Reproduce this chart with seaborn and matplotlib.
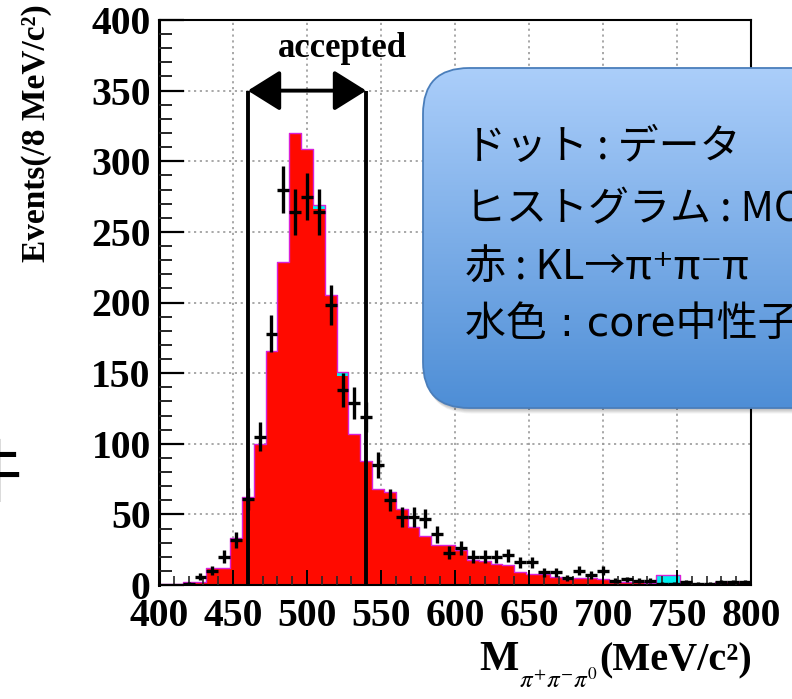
import numpy as np
import pandas as pd
import matplotlib
matplotlib.use("Agg")
import matplotlib.pyplot as plt
import seaborn as sns
from matplotlib.patches import FancyBboxPatch, ArrowStyle
from matplotlib.ticker import MultipleLocator

# ---- data: M(pi+ pi- pi0) spectrum, 8 MeV/c^2 bins from 400 to 800 ----
bin_lo, bin_hi, bin_w = 400, 800, 8

# MC: K_L -> pi+ pi- pi0 (red)
mc_kl3pi = [1, 1, 2, 2, 12, 12, 33, 62, 100, 166,
            229, 320, 309, 266, 205, 148, 107, 88, 67, 66,
            54, 41, 35, 28, 28, 25, 18, 17, 15, 14,
            9, 8, 8, 6, 4, 5, 5, 4, 2, 2,
            2, 1.5, 1, 1, 0.5, 0.5, 0.5, 2, 2, 2]
# MC: core neutron (cyan), stacked on top
mc_core = [0, 0, 0, 0, 0, 0, 0, 0, 0, 0,
           0, 0, 0, 3, 0, 3, 0, 0, 1, 0,
           0, 0, 0, 0, 0, 0, 0, 0, 0, 0,
           0, 0, 0, 0, 0, 0, 0, 0, 0, 0,
           0, 0, 6, 6, 1, 0, 0, 0, 0, 0]
# data points
data_counts = [0, 0, 1, 6, 10, 20, 32, 61, 105, 178,
               280, 264, 275, 264, 198, 138, 129, 119, 85, 60,
               48, 48, 47, 36, 23, 26, 20, 20, 20, 21,
               16, 16, 9, 9, 5, 10, 7, 10, 3, 4,
               3, 3, 1, 1, 2, 1, 1, 2, 2, 2]

accept_window = (460, 540)
accept_level = 350
x_ticks = [400, 450, 500, 550, 600, 650, 700, 750, 800]
y_ticks = [0, 50, 100, 150, 200, 250, 300, 350, 400]

legend_lines = ["ドット : データ",
                "ヒストグラム : MC",
                "赤 : KL→π⁺π⁻π",
                "水色 : core中性子"]

edges = np.arange(bin_lo, bin_hi + bin_w, bin_w)
bin_list = edges.tolist()
centers = edges[:-1] + bin_w / 2
df = pd.DataFrame({"mass": centers,
                   "kl3pi": mc_kl3pi,
                   "core": mc_core,
                   "data": data_counts})
df["total"] = df["kl3pi"] + df["core"]

# ---- figure ----
sns.set_theme(style="white")
plt.rcParams["font.family"] = ["Liberation Serif", "DejaVu Serif"]
plt.rcParams["mathtext.fontset"] = "stix"

W, H = 792, 699
fig = plt.figure(figsize=(W / 100, H / 100), dpi=100)
fig.patch.set_facecolor("white")
ax = fig.add_axes([159 / W, 1 - 585 / H, (751 - 159) / W, (585 - 20) / H])
ax.set_facecolor("white")

# dotted grid behind everything
for xv in x_ticks[1:-1]:
    ax.axvline(xv, color="#9a9a9a", ls=(0, (1.3, 2.2)), lw=1.2, zorder=0.3)
for yv in y_ticks[1:-1]:
    ax.axhline(yv, color="#9a9a9a", ls=(0, (1.3, 2.2)), lw=1.2, zorder=0.3)

# stacked MC: total (cyan) underneath, K_L -> 3pi (red) on top of it
sns.histplot(data=df, x="mass", weights="total", bins=bin_list, element="step",
             fill=True, color="#00F0F0", alpha=1, linewidth=0, ax=ax, zorder=1)
sns.histplot(data=df, x="mass", weights="kl3pi", bins=bin_list, element="step",
             fill=True, color="#FF0A00", alpha=1, linewidth=0, ax=ax, zorder=1.1)
sns.histplot(data=df, x="mass", weights="total", bins=bin_list, element="step",
             fill=False, color="#D820D8", linewidth=1.0, ax=ax, zorder=1.2)

# data with Poisson errors
pts = df[df["data"] > 0]
ax.errorbar(pts["mass"], pts["data"], yerr=np.sqrt(pts["data"]), xerr=bin_w / 2,
            fmt="none", ecolor="black", elinewidth=2.4, capsize=0, zorder=4)

# accepted window
lo, hi = accept_window
ax.vlines([lo, hi], 0, accept_level, color="black", lw=2.8, zorder=5)
ax.annotate("", xy=(lo, accept_level), xytext=(hi, accept_level),
            arrowprops=dict(arrowstyle=ArrowStyle("<|-|>", head_length=0.8, head_width=0.5),
                            mutation_scale=25, lw=2.8, color="black",
                            shrinkA=0, shrinkB=0), zorder=5)
ax.text(524, 374, "accepted", ha="center", va="baseline", fontsize=25,
        fontweight="bold", color="black", zorder=5)

# axes styling (ROOT-like)
ax.set_xlim(bin_lo, bin_hi)
ax.set_ylim(y_ticks[0], y_ticks[-1])
ax.set_xticks(x_ticks)
ax.set_yticks(y_ticks)
ax.set_xticklabels([str(v) for v in x_ticks])
ax.set_yticklabels([str(v) for v in y_ticks])
ax.xaxis.set_minor_locator(MultipleLocator(10))
ax.yaxis.set_minor_locator(MultipleLocator(10))
ax.tick_params(axis="y", which="major", direction="in", length=18, width=1.6,
               pad=6, labelsize=28.5, colors="black", left=True)
ax.tick_params(axis="y", which="minor", direction="in", length=9.5, width=1.4, left=True)
ax.tick_params(axis="x", which="major", direction="in", length=11, width=1.4,
               pad=9, labelsize=28.5, colors="black", bottom=True)
ax.tick_params(axis="x", which="minor", direction="in", length=6.5, width=1.2, bottom=True)
for lab in ax.get_xticklabels() + ax.get_yticklabels():
    lab.set_fontweight("bold")
ax.set_xlabel("")
ax.set_ylabel("")
for side, sp in ax.spines.items():
    sp.set_visible(True)
    sp.set_color("black")
    sp.set_linewidth(2.2 if side == "left" else 1.5)
ax.set_axisbelow(False)

fig.text(37 / W, 1 - 4 / H, "Events(/8 MeV/c²)", rotation=90, ha="center", va="top",
         fontsize=24, fontweight="bold", color="black")

# x-axis title built from pieces: M, small subscript, (MeV/c²)
base_y = 1 - 670 / H
unit = fig.text(752 / W, base_y, "(MeV/c²)", ha="right", va="baseline",
                fontsize=29, fontweight="bold", color="black")
fig.canvas.draw()
ux0 = unit.get_window_extent().x0
sub = fig.text((ux0 - 1) / W, 1 - 688 / H, r"$\pi^{+}\pi^{-}\pi^{0}$", ha="right",
               va="baseline", fontsize=18, color="black")
fig.canvas.draw()
sx0 = sub.get_window_extent().x0
fig.text((sx0 - 1) / W, base_y, "M", ha="right", va="baseline",
         fontsize=30, fontweight="bold", color="black")

# ---- callout box over the plot ----
ov = fig.add_axes([0, 0, 1, 1], zorder=10)
ov.set_xlim(0, W)
ov.set_ylim(H, 0)
ov.axis("off")
ov.patch.set_alpha(0)

bx0, by0, bx1, by1 = 423, 68, 880, 408
rad = 46
for k in range(1, 8):
    sh = FancyBboxPatch((bx0 + k * 0.4, by0 + k * 0.8), bx1 - bx0, by1 - by0,
                        boxstyle=f"round,pad=0,rounding_size={rad}",
                        facecolor="black", edgecolor="none", alpha=0.045)
    ov.add_patch(sh)

box = FancyBboxPatch((bx0, by0), bx1 - bx0, by1 - by0,
                     boxstyle=f"round,pad=0,rounding_size={rad}",
                     facecolor="none", edgecolor="none")
ov.add_patch(box)
top_c = np.array([171, 206, 250]) / 255
bot_c = np.array([78, 142, 214]) / 255
t = np.linspace(0, 1, 256)[:, None, None]
grad = top_c * (1 - t) + bot_c * t
grad = np.repeat(grad, 2, axis=1)
im = ov.imshow(grad, extent=(bx0, bx1, by1, by0), aspect="auto",
               interpolation="bilinear", zorder=2)
im.set_clip_path(box)
edge = FancyBboxPatch((bx0, by0), bx1 - bx0, by1 - by0,
                      boxstyle=f"round,pad=0,rounding_size={rad}",
                      facecolor="none", edgecolor="#4A7EBB", lw=1.3, zorder=3)
ov.add_patch(edge)
ov.set_xlim(0, W)
ov.set_ylim(H, 0)

cjk = ["Noto Sans CJK JP", "DejaVu Sans"]
wide_latin = ["DejaVu Sans", "Noto Sans CJK JP"]
families = [cjk, cjk, cjk, wide_latin]
for yc, line, fam in zip([147, 210, 268, 325], legend_lines, families):
    ov.text(465, yc, line, ha="left", va="center", fontsize=29.5,
            family=fam, color="black", zorder=4)

# slide text partly outside the left edge
ov.text(22, 476, "件", ha="right", va="center", fontsize=50, family=cjk, color="black")

fig.savefig("out.png", dpi=100, facecolor="white")
